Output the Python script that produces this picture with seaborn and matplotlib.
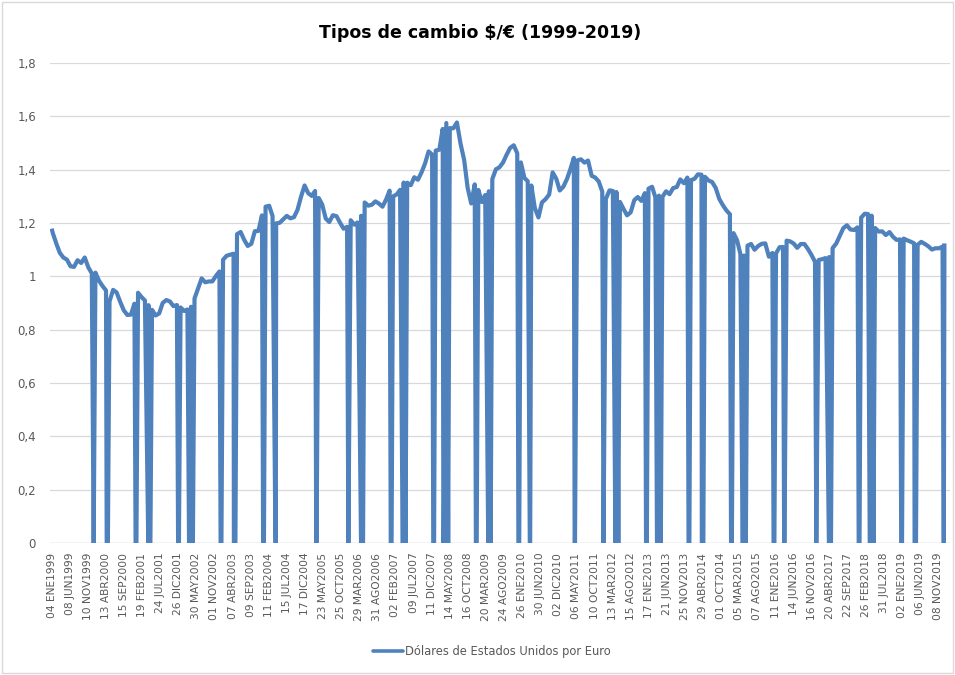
import matplotlib
matplotlib.use("Agg")
import matplotlib.pyplot as plt
import seaborn as sns
import pandas as pd
import numpy as np
from matplotlib.patches import Rectangle
from matplotlib.lines import Line2D
from matplotlib import font_manager

# ---------------- data ----------------
title = "Tipos de cambio $/€ (1999-2019)"
series_name = "Dólares de Estados Unidos por Euro"

first_date = "1999-01-04"
first_value = 1.1789
last_date = "2019-12-31"
last_value = 1.1234

# mid-month values, Jan 1999 .. Dec 2019
monthly_values = [
    # 1999
    1.1608, 1.1208, 1.0883, 1.0704, 1.0628, 1.0378, 1.0353, 1.0604, 1.0501, 1.0706, 1.0338, 1.0110,
    # 2000
    1.0137, 0.9834, 0.9643, 0.9470, 0.9060, 0.9492, 0.9397, 0.9041, 0.8721, 0.8552, 0.8564, 0.8973,
    # 2001
    0.9383, 0.9217, 0.9095, 0.8920, 0.8742, 0.8532, 0.8607, 0.9005, 0.9111, 0.9059, 0.8883, 0.8924,
    # 2002
    0.8833, 0.8700, 0.8758, 0.8858, 0.9170, 0.9554, 0.9922, 0.9778, 0.9808, 0.9811, 1.0014, 1.0183,
    # 2003
    1.0622, 1.0773, 1.0807, 1.0848, 1.1582, 1.1663, 1.1372, 1.1139, 1.1222, 1.1692, 1.1702, 1.2286,
    # 2004
    1.2613, 1.2646, 1.2262, 1.1985, 1.2007, 1.2138, 1.2266, 1.2176, 1.2218, 1.2490, 1.2991, 1.3408,
    # 2005
    1.3119, 1.3014, 1.3201, 1.2938, 1.2694, 1.2165, 1.2037, 1.2292, 1.2256, 1.2015, 1.1786, 1.1856,
    # 2006
    1.2103, 1.1938, 1.2020, 1.2271, 1.2770, 1.2650, 1.2684, 1.2811, 1.2727, 1.2611, 1.2881, 1.3213,
    # 2007
    1.2999, 1.3074, 1.3242, 1.3516, 1.3511, 1.3419, 1.3716, 1.3622, 1.3896, 1.4227, 1.4684, 1.4570,
    # 2008
    1.4718, 1.4748, 1.5527, 1.5750, 1.5557, 1.5553, 1.5770, 1.4975, 1.4370, 1.3322, 1.2732, 1.3449,
    # 2009
    1.3239, 1.2785, 1.3050, 1.3190, 1.3650, 1.4016, 1.4088, 1.4268, 1.4562, 1.4816, 1.4914, 1.4614,
    # 2010
    1.4272, 1.3686, 1.3569, 1.3406, 1.2565, 1.2209, 1.2770, 1.2894, 1.3067, 1.3898, 1.3661, 1.3220,
    # 2011
    1.3360, 1.3649, 1.3999, 1.4442, 1.4349, 1.4388, 1.4264, 1.4343, 1.3770, 1.3706, 1.3556, 1.3179,
    # 2012
    1.2905, 1.3224, 1.3201, 1.3162, 1.2789, 1.2526, 1.2288, 1.2400, 1.2856, 1.2974, 1.2828, 1.3119,
    # 2013
    1.3288, 1.3359, 1.2964, 1.3026, 1.2982, 1.3189, 1.3080, 1.3310, 1.3348, 1.3635, 1.3493, 1.3704,
    # 2014
    1.3610, 1.3659, 1.3823, 1.3813, 1.3732, 1.3592, 1.3539, 1.3316, 1.2901, 1.2673, 1.2472, 1.2331,
    # 2015
    1.1621, 1.1350, 1.0838, 1.0779, 1.1150, 1.1213, 1.0996, 1.1139, 1.1221, 1.1235, 1.0736, 1.0877,
    # 2016
    1.0860, 1.1093, 1.1100, 1.1339, 1.1311, 1.1229, 1.1069, 1.1212, 1.1212, 1.1026, 1.0799, 1.0543,
    # 2017
    1.0614, 1.0643, 1.0685, 1.0723, 1.1058, 1.1229, 1.1511, 1.1807, 1.1915, 1.1756, 1.1738, 1.1836,
    # 2018
    1.2200, 1.2348, 1.2336, 1.2276, 1.1812, 1.1678, 1.1686, 1.1549, 1.1659, 1.1484, 1.1367, 1.1384,
    # 2019
    1.1416, 1.1351, 1.1302, 1.1238, 1.1185, 1.1293, 1.1218, 1.1126, 1.1004, 1.1053, 1.1051, 1.1113,
]

# weekday holidays without quotation (plotted as 0 in the original chart)
holiday_dates = [
    "1999-12-31",
    "2000-04-21", "2000-04-24", "2000-05-01", "2000-12-25", "2000-12-26",
    "2001-01-01", "2001-04-13", "2001-04-16", "2001-05-01", "2001-12-25", "2001-12-26",
    "2002-01-01", "2002-03-29", "2002-04-01", "2002-05-01", "2002-12-25", "2002-12-26",
    "2003-01-01", "2003-04-18", "2003-04-21", "2003-05-01", "2003-12-25", "2003-12-26",
    "2004-01-01", "2004-04-09", "2004-04-12",
    "2005-03-25", "2005-03-28", "2005-12-26",
    "2006-04-14", "2006-04-17", "2006-05-01", "2006-12-25", "2006-12-26",
    "2007-01-01", "2007-04-06", "2007-04-09", "2007-05-01", "2007-12-25", "2007-12-26",
    "2008-01-01", "2008-03-21", "2008-03-24", "2008-05-01", "2008-12-25", "2008-12-26",
    "2009-01-01", "2009-04-10", "2009-04-13", "2009-05-01", "2009-12-25",
    "2010-01-01", "2010-04-02", "2010-04-05",
    "2011-04-22", "2011-04-25", "2011-12-26",
    "2012-04-06", "2012-04-09", "2012-05-01", "2012-12-25", "2012-12-26",
    "2013-01-01", "2013-03-29", "2013-04-01", "2013-05-01", "2013-12-25", "2013-12-26",
    "2014-01-01", "2014-04-18", "2014-04-21", "2014-05-01", "2014-12-25", "2014-12-26",
    "2015-01-01", "2015-04-03", "2015-04-06", "2015-05-01", "2015-12-25",
    "2016-01-01", "2016-03-25", "2016-03-28", "2016-12-26",
    "2017-04-14", "2017-04-17", "2017-05-01", "2017-12-25", "2017-12-26",
    "2018-01-01", "2018-03-30", "2018-04-02", "2018-05-01", "2018-12-25", "2018-12-26",
    "2019-01-01", "2019-04-19", "2019-04-22", "2019-05-01", "2019-12-25", "2019-12-26",
]

tick_labels = [
    "04 ENE1999", "08 JUN1999", "10 NOV1999", "13 ABR2000", "15 SEP2000", "19 FEB2001",
    "24 JUL2001", "26 DIC2001", "30 MAY2002", "01 NOV2002", "07 ABR2003", "09 SEP2003",
    "11 FEB2004", "15 JUL2004", "17 DIC2004", "23 MAY2005", "25 OCT2005", "29 MAR2006",
    "31 AGO2006", "02 FEB2007", "09 JUL2007", "11 DIC2007", "14 MAY2008", "16 OCT2008",
    "20 MAR2009", "24 AGO2009", "26 ENE2010", "30 JUN2010", "02 DIC2010", "06 MAY2011",
    "10 OCT2011", "13 MAR2012", "15 AGO2012", "17 ENE2013", "21 JUN2013", "25 NOV2013",
    "29 ABR2014", "01 OCT2014", "05 MAR2015", "07 AGO2015", "11 ENE2016", "14 JUN2016",
    "16 NOV2016", "20 ABR2017", "22 SEP2017", "26 FEB2018", "31 JUL2018", "02 ENE2019",
    "06 JUN2019", "08 NOV2019",
]

y_ticks = [0, 0.2, 0.4, 0.6, 0.8, 1.0, 1.2, 1.4, 1.6, 1.8]
y_tick_labels = ["0", "0,2", "0,4", "0,6", "0,8", "1", "1,2", "1,4", "1,6", "1,8"]

# ---------------- build table ----------------
month_dates = pd.date_range("1999-01-01", periods=len(monthly_values), freq="MS") + pd.Timedelta(days=14)
df = pd.concat([
    pd.DataFrame({"fecha": [pd.Timestamp(first_date)], "valor": [first_value]}),
    pd.DataFrame({"fecha": month_dates, "valor": monthly_values}),
    pd.DataFrame({"fecha": pd.to_datetime(holiday_dates), "valor": 0.0}),
    pd.DataFrame({"fecha": [pd.Timestamp(last_date)], "valor": [last_value]}),
], ignore_index=True).sort_values("fecha").reset_index(drop=True)
df["serie"] = series_name

mon_map = {"ENE": 1, "FEB": 2, "MAR": 3, "ABR": 4, "MAY": 5, "JUN": 6,
           "JUL": 7, "AGO": 8, "SEP": 9, "OCT": 10, "NOV": 11, "DIC": 12}
tick_dates = [pd.Timestamp(int(s[6:]), mon_map[s[3:6]], int(s[:2])) for s in tick_labels]

# ---------------- plot ----------------
sns.set_theme(style="white")
plt.rcParams["font.family"] = ["DejaVu Sans"]

available = {f.name for f in font_manager.fontManager.ttflist}
title_family = "Liberation Sans Narrow" if "Liberation Sans Narrow" in available else "DejaVu Sans"
title_size = 15 if title_family == "Liberation Sans Narrow" else 12.5

line_color = "#4F81BD"
grey_text = "#595959"

fig = plt.figure(figsize=(9.55, 6.75), dpi=100)
ax = fig.add_axes([50 / 955, 1 - 543 / 675, 900 / 955, 480 / 675])

sns.lineplot(data=df, x="fecha", y="valor", hue="serie", palette=[line_color],
             estimator=None, sort=False, linewidth=3.0, ax=ax, legend=False)
for ln in ax.get_lines():
    ln.set_solid_joinstyle("round")
    ln.set_solid_capstyle("butt")

start = pd.Timestamp(first_date)
ax.set_xlim(start - pd.Timedelta(days=14), start + pd.Timedelta(days=7714))
ax.set_ylim(0, 1.8)

ax.set_yticks(y_ticks)
ax.set_yticklabels(y_tick_labels, color=grey_text, fontsize=8.5)
ax.set_xticks(tick_dates)
ax.set_xticklabels(tick_labels, rotation=90, color=grey_text, fontsize=7.7, va="top")
ax.tick_params(axis="both", length=0)
ax.tick_params(axis="y", pad=10)
ax.tick_params(axis="x", pad=7)

ax.grid(axis="y", color="#D9D9D9", linewidth=0.9)
ax.grid(axis="x", visible=False)
for sp in ax.spines.values():
    sp.set_visible(False)
ax.axhline(0, color="#D9D9D9", linewidth=1.0, zorder=0)
ax.set_xlabel("")
ax.set_ylabel("")

fig.text(480 / 955, 1 - 33 / 675, title, ha="center", va="center",
         fontsize=title_size, fontweight="bold", color="black",
         family=[title_family, "DejaVu Sans"])

# legend
handle = Line2D([], [], color=line_color, linewidth=2.6)
fig.legend([handle], [series_name], loc="center", bbox_to_anchor=(492 / 955, 1 - 652 / 675),
           frameon=False, fontsize=8.3, labelcolor=grey_text, handlelength=2.6,
           handletextpad=0.2)

fig.patches.append(Rectangle((2 / 955, 2 / 675), 951 / 955, 671 / 675, transform=fig.transFigure,
                             fill=False, edgecolor="#D9D9D9", linewidth=1.0))

fig.savefig("out.png", dpi=100)
